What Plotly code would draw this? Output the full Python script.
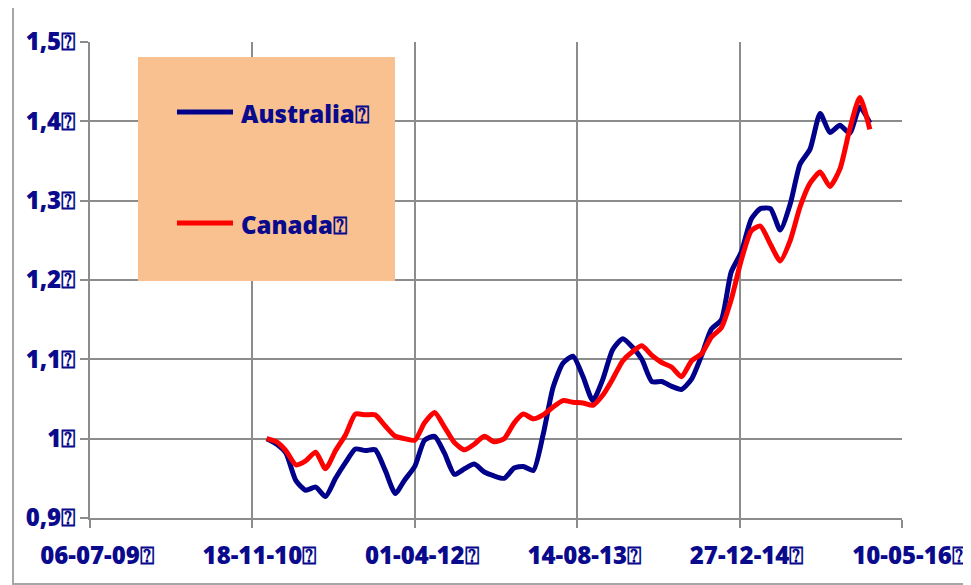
import pandas as pd
import plotly.graph_objects as go

# ---------------- data ----------------
dates = pd.date_range("2011-01-01", periods=62, freq="MS")

australia = [
    1.000, 0.993, 0.982, 0.947, 0.935, 0.939, 0.927, 0.950, 0.970, 0.987,
    0.985, 0.986, 0.960, 0.931, 0.948, 0.965, 0.998, 1.003, 0.982, 0.955,
    0.962, 0.968, 0.958, 0.953, 0.950, 0.963, 0.965, 0.960, 1.005, 1.065,
    1.095, 1.104, 1.078, 1.048, 1.075, 1.112, 1.126, 1.115, 1.100, 1.072,
    1.072, 1.066, 1.062, 1.075, 1.105, 1.138, 1.150, 1.210, 1.235, 1.277,
    1.290, 1.290, 1.263, 1.296, 1.346, 1.365, 1.410, 1.386, 1.395, 1.385,
    1.418, 1.398,
]

canada = [
    1.000, 0.996, 0.985, 0.967, 0.972, 0.983, 0.962, 0.985, 1.005, 1.031,
    1.030, 1.030, 1.016, 1.003, 1.000, 0.998, 1.020, 1.033, 1.015, 0.995,
    0.986, 0.993, 1.003, 0.996, 1.000, 1.020, 1.031, 1.025, 1.030, 1.040,
    1.048, 1.046, 1.045, 1.042, 1.055, 1.075, 1.098, 1.110, 1.117, 1.105,
    1.096, 1.090, 1.078, 1.098, 1.107, 1.128, 1.140, 1.175, 1.225, 1.262,
    1.268, 1.245, 1.224, 1.250, 1.292, 1.322, 1.336, 1.318, 1.340, 1.390,
    1.430, 1.390,
]

x_tick_dates = ["2009-07-06", "2010-11-18", "2012-04-01",
                "2013-08-14", "2014-12-27", "2016-05-10"]
x_tick_labels = ["06-07-09⍰", "18-11-10⍰", "01-04-12⍰",
                 "14-08-13⍰", "27-12-14⍰", "10-05-16⍰"]
y_tick_values = [0.9, 1.0, 1.1, 1.2, 1.3, 1.4, 1.5]
y_tick_labels = ["0,9⍰", "1⍰", "1,1⍰", "1,2⍰", "1,3⍰", "1,4⍰", "1,5⍰"]

series_names = ["Australia", "Canada"]
legend_labels = ["Australia⍰", "Canada⍰"]

# ---------------- style ----------------
NAVY = "#0a0a8c"
AUS_COLOR = "#00008b"
CAN_COLOR = "#ff0000"
GRID = "#8c8c8c"
FONT = dict(family="Open Sans", size=24, color=NAVY, weight=800)

fig = go.Figure()
for name, vals, col in [(series_names[0], australia, AUS_COLOR),
                        (series_names[1], canada, CAN_COLOR)]:
    fig.add_trace(go.Scatter(
        x=dates, y=vals, mode="lines", name=name,
        line=dict(color=col, width=5, shape="spline", smoothing=0.6),
        showlegend=False,
    ))

# page body has an 8px margin, so the figure is 8px smaller than the window
fig.update_layout(
    width=963, height=577,
    margin=dict(l=82, r=69, t=34, b=67, autoexpand=False),
    paper_bgcolor="white", plot_bgcolor="white",
    font=FONT,
)

fig.update_xaxes(
    type="date",
    range=["2009-07-06", "2016-05-10"],
    tickmode="array", tickvals=x_tick_dates, ticktext=x_tick_labels,
    showgrid=True, gridcolor=GRID, gridwidth=2,
    ticks="outside", ticklen=8, tickwidth=2, tickcolor=GRID,
    showline=True, linecolor=GRID, linewidth=2,
    ticklabelstandoff=7, ticklabelshift=7,
    tickfont=FONT, zeroline=False, automargin=False,
)
fig.update_yaxes(
    range=[0.9, 1.5],
    tickmode="array", tickvals=y_tick_values, ticktext=y_tick_labels,
    showgrid=True, gridcolor=GRID, gridwidth=2,
    ticks="outside", ticklen=8, tickwidth=2, tickcolor=GRID,
    showline=True, linecolor=GRID, linewidth=2,
    tickfont=FONT, zeroline=False, automargin=False,
)

# outer chart border
fig.add_shape(type="rect", xref="paper", yref="paper",
              x0=-0.0948, x1=1.10, y0=-0.1387, y1=1.0735,
              line=dict(color="#a6a6a6", width=2), fillcolor="rgba(0,0,0,0)",
              layer="below")

# legend box
fig.add_shape(type="rect", xref="paper", yref="paper",
              x0=0.0591, x1=0.3756, y0=0.4979, y1=0.9685,
              line=dict(width=0), fillcolor="#f8c18f", layer="above")
legend_y = [0.853, 0.6197]
for lab, col, ly in zip(legend_labels, [AUS_COLOR, CAN_COLOR], legend_y):
    fig.add_shape(type="line", xref="paper", yref="paper",
                  x0=0.1071, x1=0.1761, y0=ly, y1=ly,
                  line=dict(color=col, width=5), layer="above")
    fig.add_annotation(xref="paper", yref="paper", x=0.184, y=ly - 0.004,
                       text=lab, showarrow=False, xanchor="left",
                       yanchor="middle", font=FONT)

fig.write_html("out.html")
